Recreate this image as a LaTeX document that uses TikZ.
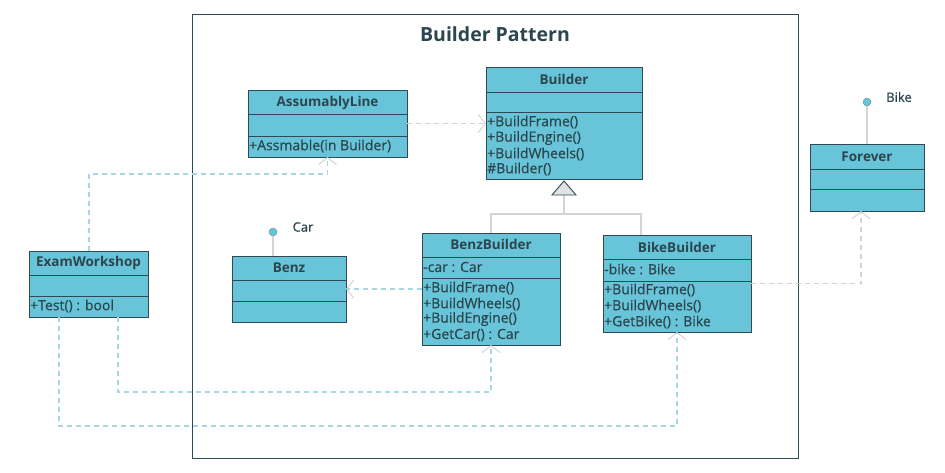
\documentclass[tikz,border=0pt]{standalone}
\usepackage{fontspec}
\setmainfont{Open Sans}
\newfontfamily\memfont[FakeBold=0.6]{Open Sans}
\usetikzlibrary{arrows.meta}
\definecolor{boxfill}{HTML}{68C4D9}
\definecolor{boxline}{HTML}{2E4A54}
\definecolor{txt}{HTML}{2B464F}
\definecolor{connblue}{HTML}{A6D7E3}
\definecolor{conngray}{HTML}{D4D4D4}
\definecolor{trifill}{HTML}{E2E2E2}
\tikzset{
 cls/.style={draw=boxline, fill=boxfill, line width=0.9pt, inner sep=0pt, outer sep=0pt, anchor=north west},
 hdr/.style={font=\bfseries\fontsize{13.5}{15}\selectfont, text=txt, inner sep=0pt},
 mem/.style={font=\memfont\fontsize{14}{16}\selectfont, text=txt, inner sep=0pt, anchor=west},
 div/.style={draw=boxline, line width=0.9pt},
 conn/.style={draw=connblue, dash pattern=on 5pt off 4pt, line width=1.1pt, -{Straight Barb[length=7pt,width=18pt,line width=1pt,color=conngray]}},
 conngr/.style={conn, draw=conngray},
 inhline/.style={draw=conngray, line width=1.6pt},
 inhtri/.style={draw=boxline, fill=trifill, line width=0.9pt},
 ball/.style={circle, fill=boxfill, draw=boxline, densely dotted, line width=0.5pt, minimum size=8pt, inner sep=0pt},
 stem/.style={draw=conngray, line width=1.6pt},
 lbl/.style={font=\memfont\fontsize{13}{15}\selectfont, text=txt, inner sep=0pt},
}
\begin{document}
\begin{tikzpicture}[x=1pt,y=-1pt]
\useasboundingbox (0,0) rectangle (945,472);
% frame
\node[draw=boxline, line width=1pt, minimum width=606pt, minimum height=444pt, inner sep=0pt, anchor=north west] (frame) at (192,14) {};
\node[font=\bfseries\fontsize{19.5}{22}\selectfont, text=txt] (title) at (495,34) {Builder Pattern};

\coordinate (junc) at (564,214);

% class boxes
\node[cls, minimum width=159pt, minimum height=67pt] (asm) at (248,90) {};
\node[cls, minimum width=156pt, minimum height=112pt] (builder) at (486,67) {};
\node[cls, minimum width=138pt, minimum height=112pt] (benzb) at (422,233) {};
\node[cls, minimum width=148pt, minimum height=97pt] (bikeb) at (603,235) {};
\node[cls, minimum width=114pt, minimum height=66pt] (benz) at (232,256) {};
\node[cls, minimum width=119pt, minimum height=66pt] (exam) at (29,251) {};
\node[cls, minimum width=114pt, minimum height=67pt] (forever) at (810,144) {};

% connectors
\draw[conn] ([xshift=60pt]exam.north west) -- ++(0,-77) -| (asm.south);
\draw[conn] (benzb.west) -- (benzb.west -| benz.east);
\draw[conn] ([xshift=89pt]exam.south west) -- ++(0,75) -| (benzb.south);
\draw[conn] ([xshift=30pt]exam.south west) -- ++(0,109) -| (bikeb.south);
\draw[conngr] (bikeb.east) -| ([xshift=-6pt]forever.south);
\draw[conngr] (asm.east) -- (asm.east -| builder.west);

% inheritance
\draw[inhline] ([yshift=-16pt]builder.south) -- (junc);
\draw[inhline] (benzb.north) |- (junc) -| ([xshift=-36pt]bikeb.north);
\draw[inhtri] ([yshift=-2pt]builder.south) -- ++(-12,14) -- ++(24,0) -- cycle;

% lollipops
\node[ball] (carball) at (273,232) {};
\draw[stem] (carball.south) -- (carball.south |- benz.north);
\node[lbl] (carlbl) at (303,227) {Car};
\node[ball] (bikeball) at (867,102) {};
\draw[stem] (bikeball.south) -- (forever.north);
\node[lbl] (bikelbl) at (899,97) {Bike};

% dividers
\foreach \n/\a/\b in {asm/24/46, builder/25/45, benzb/24/45, bikeb/24/46, benz/24/45, exam/24/45, forever/25/45}{
  \draw[div] ([yshift=-\a pt]\n.north west) -- ([yshift=-\a pt]\n.north east);
  \draw[div] ([yshift=-\b pt]\n.north west) -- ([yshift=-\b pt]\n.north east);
}

% texts
\node[hdr] (asmT) at (327.5,103) {AssumablyLine};
\node[mem] (asm1) at (249,146) {+Assmable(in Builder)};

\node[hdr] (builderT) at (564,79) {Builder};
\node[mem] (bu1) at (487,122) {+BuildFrame()};
\node[mem] (bu2) at (487,138) {+BuildEngine()};
\node[mem] (bu3) at (487,154) {+BuildWheels()};
\node[mem] (bu4) at (487,169) {\#Builder()};

\node[hdr] (benzbT) at (491,244) {BenzBuilder};
\node[mem] (bb0) at (423,267) {-car : Car};
\node[mem] (bb1) at (423,288) {+BuildFrame()};
\node[mem] (bb2) at (423,304) {+BuildWheels()};
\node[mem] (bb3) at (423,319) {+BuildEngine()};
\node[mem] (bb4) at (423,335) {+GetCar() : Car};

\node[hdr] (bikebT) at (677,247) {BikeBuilder};
\node[mem] (kb0) at (604,269) {-bike : Bike};
\node[mem] (kb1) at (604,290) {+BuildFrame()};
\node[mem] (kb2) at (604,306) {+BuildWheels()};
\node[mem] (kb3) at (604,322) {+GetBike() : Bike};

\node[hdr] (benzT) at (289,268) {Benz};
\node[hdr] (examT) at (88.5,263) {ExamWorkshop};
\node[mem] (ex1) at (30,306) {+Test() : bool};
\node[hdr] (foreverT) at (867,157) {Forever};
\end{tikzpicture}
\end{document}
